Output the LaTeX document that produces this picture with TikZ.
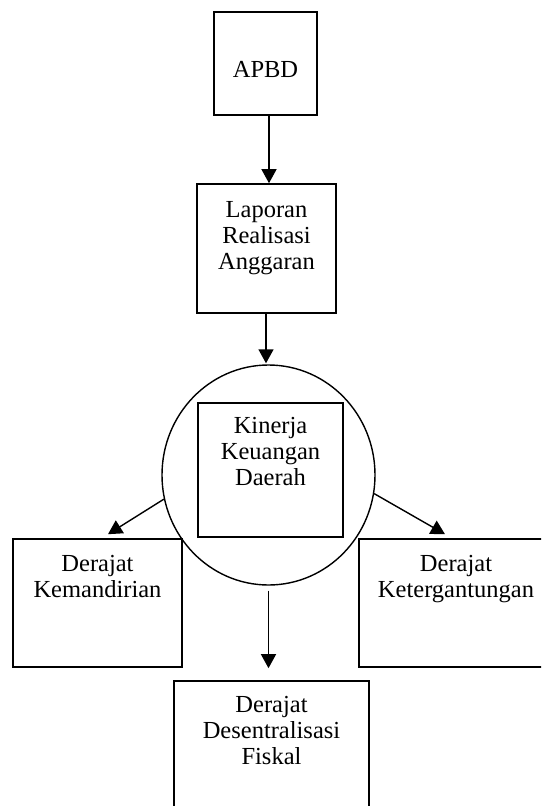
\documentclass[tikz,border=0pt]{standalone}
\usepackage{fontspec}
\setmainfont{Liberation Serif}
\usetikzlibrary{arrows.meta,shapes.geometric,calc}
\begin{document}
\begin{tikzpicture}[x=1pt,y=-1pt,
  box/.style={draw,line width=1.6pt,inner sep=0pt,rectangle},
  txt/.style={anchor=north,inner sep=0pt,align=center,font=\fontsize{24.5}{26}\selectfont},
  arr/.style={line width=1.4pt,-{Triangle[width=15pt,length=14pt]}}]
\useasboundingbox (0,0) rectangle (541,806);
\clip (0,0) rectangle (541,806);
% boxes
\node[box,minimum width=103pt,minimum height=103pt] (apbd) at (265.5,63.5) {};
\node[box,minimum width=139pt,minimum height=129pt] (lap) at (266.5,248.5) {};
\node[draw,ellipse,line width=1.4pt,inner sep=0pt,minimum width=213pt,minimum height=220pt] (circ) at (268.5,475) {};
\node[box,minimum width=145pt,minimum height=134pt] (kin) at (270.5,470) {};
\node[box,minimum width=169pt,minimum height=128pt] (kem) at (97.5,603) {};
\node[box,minimum width=194pt,minimum height=128pt] (ket) at (456,603) {};
\node[box,minimum width=195pt,minimum height=150pt] (des) at (271.5,756) {};
% texts
\node[txt] (tapbd) at ($(apbd.north)+(0,50)$) {APBD};
\node[txt] (tlap) at ($(lap.north)+(0,18)$) {Laporan\\Realisasi\\Anggaran};
\node[txt] (tkin) at ($(kin.north)+(0,15)$) {Kinerja\\Keuangan\\Daerah};
\node[txt] (tkem) at ($(kem.north)+(0,17)$) {Derajat\\Kemandirian};
\node[txt] (tket) at ($(ket.north)+(0,17)$) {Derajat\\Ketergantungan};
\node[txt] (tdes) at ($(des.north)+(0,16)$) {Derajat\\Desentralisasi\\Fiskal};
% connectors
\draw[arr] ([xshift=3.5pt]apbd.south) -- ([xshift=2.5pt]lap.north);
\draw[arr] ([xshift=-0.5pt]lap.south) -- ([xshift=-0.5pt,yshift=1pt]lap.south |- circ.north);
\draw[arr] (circ.193.8) -- ([xshift=10.5pt,yshift=4pt]kem.north);
\draw[arr] (circ.350.8) -- ([xshift=-11pt,yshift=4pt]ket.north);
\draw[arr] ([yshift=-5pt]circ.south) -- ([yshift=12pt]circ.south |- des.north);
\end{tikzpicture}
\end{document}
